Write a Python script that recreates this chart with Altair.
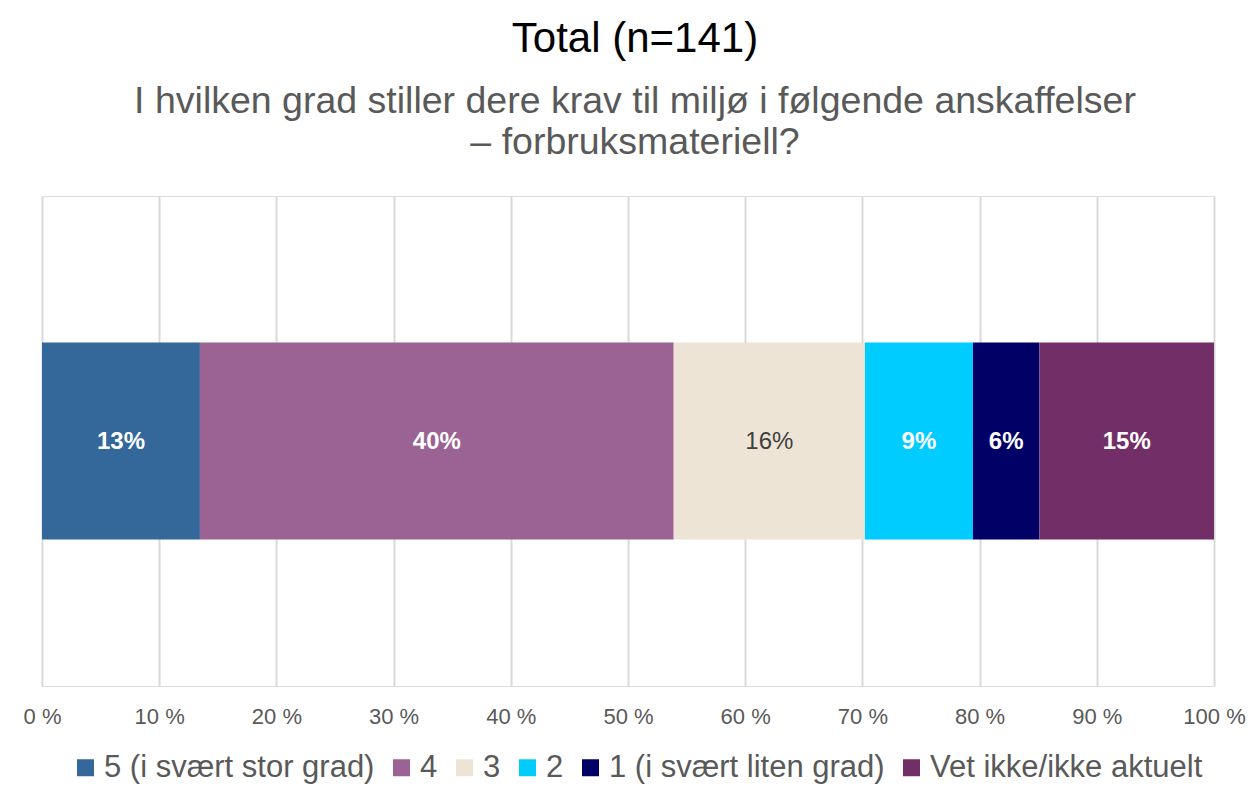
import altair as alt
import pandas as pd

# Survey responses (n=141), ordered as stacked left to right
categories = ["5 (i svært stor grad)", "4", "3", "2", "1 (i svært liten grad)", "Vet ikke/ikke aktuelt"]
counts = [19, 57, 23, 13, 8, 21]
colors = ["#34679A", "#9B6393", "#EEE4D6", "#00CCFF", "#000066", "#722F67"]
tick_values = [0, 0.1, 0.2, 0.3, 0.4, 0.5, 0.6, 0.7, 0.8, 0.9, 1.0]

FONT = "Liberation Sans"
GREY = "#595959"

df = pd.DataFrame({
    "row": ["Total"] * len(categories),
    "kategori": categories,
    "n": counts,
    "rekkefolge": list(range(len(categories))),
})

base = (
    alt.Chart(df)
    .transform_joinaggregate(total="sum(n)")
    .transform_calculate(pct="datum.n / datum.total")
    .transform_stack(
        stack="pct",
        groupby=["row"],
        as_=["x0", "x1"],
        sort=[alt.SortField("rekkefolge", order="ascending")],
    )
    .transform_calculate(mid="(datum.x0 + datum.x1) / 2")
)

x_scale = alt.Scale(domain=[0, 1], nice=False, zero=True)
y_enc = alt.Y("row:N", axis=None, scale=alt.Scale(paddingInner=0, paddingOuter=0))

bars = base.mark_bar(size=197).encode(
    x=alt.X(
        "x0:Q",
        scale=x_scale,
        axis=alt.Axis(
            values=tick_values,
            labelExpr="format(datum.value * 100, 'd') + ' %'",
            grid=True,
            gridColor="#D9D9D9",
            gridWidth=2,
            domain=False,
            ticks=False,
            labelFlush=False,
            labelOverlap=False,
            labelFont=FONT,
            labelFontSize=22,
            labelColor=GREY,
            labelPadding=20,
            title=None,
        ),
    ),
    x2="x1:Q",
    y=y_enc,
    color=alt.Color(
        "kategori:N",
        scale=alt.Scale(domain=categories, range=colors),
        legend=alt.Legend(
            title=None,
            orient="none",
            legendX=28,
            legendY=556,
            direction="horizontal",
            symbolType="square",
            symbolSize=289,
            symbolStrokeWidth=0,
            labelFont=FONT,
            labelFontSize=31,
            labelColor=GREY,
            labelOffset=3,
            labelLimit=500,
            columnPadding=11,
        ),
    ),
)

labels_light = base.transform_filter(alt.datum.kategori != "3").mark_text(
    font=FONT, fontSize=24, fontWeight="bold", color="white", dy=1
).encode(
    x=alt.X("mid:Q", scale=x_scale),
    y=y_enc,
    text=alt.Text("pct:Q", format=".0%"),
)

labels_dark = base.transform_filter(alt.datum.kategori == "3").mark_text(
    font=FONT, fontSize=24, color="#404040", dy=1
).encode(
    x=alt.X("mid:Q", scale=x_scale),
    y=y_enc,
    text=alt.Text("pct:Q", format=".0%"),
)

chart = (
    alt.layer(bars, labels_light, labels_dark)
    .properties(
        width=1172,
        height=490,
        autosize=alt.AutoSizeParams(type="none"),
        padding={"left": 42, "top": 196, "right": 40, "bottom": 100},
        title=alt.Title(
            text="Total (n=141)",
            subtitle=["I hvilken grad stiller dere krav til miljø i følgende anskaffelser", "– forbruksmateriell?"],
            anchor="middle",
            dx=7,
            font=FONT,
            fontSize=42,
            fontWeight="normal",
            color="black",
            subtitleFont=FONT,
            subtitleFontSize=37.5,
            subtitleColor=GREY,
            subtitleLineHeight=41,
            subtitlePadding=22,
            offset=34,
        ),
    )
    .configure_view(stroke="transparent")
    .configure(background="white")
)

chart.save("out.html", embed_options={"renderer": "svg", "actions": False})
